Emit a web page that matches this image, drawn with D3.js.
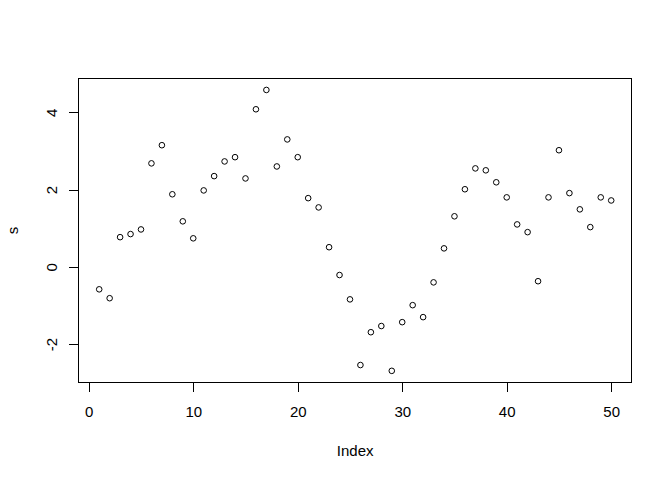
<!DOCTYPE html>
<html>
<head>
<meta charset="utf-8">
<script src="https://cdn.jsdelivr.net/npm/d3@7.9.0/dist/d3.min.js"></script>
<style>
  html, body { margin: 0; padding: 0; background: #fff; }
  svg text { font-family: "Liberation Sans", Arial, sans-serif; font-size: 15px; fill: #000; }
</style>
</head>
<body>
<svg id="plot" width="672" height="480"></svg>
<script>
// values of s, one per index 1..50
const s = [-0.58, -0.81, 0.77, 0.85, 0.97, 2.68, 3.15, 1.88, 1.18, 0.74,
           1.98, 2.35, 2.73, 2.84, 2.29, 4.08, 4.58, 2.60, 3.30, 2.84,
           1.78, 1.54, 0.51, -0.21, -0.84, -2.54, -1.69, -1.53, -2.69, -1.43,
           -0.99, -1.30, -0.40, 0.48, 1.31, 2.01, 2.55, 2.50, 2.19, 1.80,
           1.10, 0.90, -0.37, 1.80, 3.02, 1.91, 1.49, 1.03, 1.80, 1.72];
const index = s.map((_, i) => i + 1);
const xTicks = [0, 10, 20, 30, 40, 50];
const yTicks = [-2, 0, 2, 4];

const W = 672, H = 480;
const lineH = 19.2; // one margin line in px
const margin = { top: 4.1 * lineH, right: 2.1 * lineH, bottom: 5.1 * lineH, left: 4.1 * lineH };
const x0 = margin.left, x1 = W - margin.right;
const y0 = margin.top, y1 = H - margin.bottom;

// R-style 4% range extension
function pad([a, b]) {
    const e = (b - a) * 0.04;
    return [a - e, b + e];
}

// plain hyphen minus, like R
const fmt = (d) => String(d);

const x = d3.scaleLinear().domain(pad(d3.extent(index))).range([x0, x1]);
const y = d3.scaleLinear().domain(pad(d3.extent(s))).range([y1, y0]);

const svg = d3.select('#plot');

// x axis
const gx = svg.append('g')
    .attr('transform', `translate(0,${y1})`)
    .call(d3.axisBottom(x).tickValues(xTicks).tickSize(9.6).tickPadding(14.4).tickFormat(fmt));
gx.select('.domain').remove();
gx.selectAll('line').attr('stroke', '#000').attr('shape-rendering', 'crispEdges');
gx.selectAll('text').attr('font-size', null).attr('font-family', null);

// y axis, labels rotated like R's default las=0
const gy = svg.append('g')
    .attr('transform', `translate(${x0},0)`)
    .call(d3.axisLeft(y).tickValues(yTicks).tickSize(9.6).tickFormat(fmt));
gy.select('.domain').remove();
gy.selectAll('line').attr('stroke', '#000').attr('shape-rendering', 'crispEdges');
gy.selectAll('text')
    .attr('font-size', null).attr('font-family', null)
    .attr('x', null).attr('dy', null)
    .attr('text-anchor', 'middle')
    .attr('transform', 'translate(-22,0) rotate(-90)');

// box around the plot region
svg.append('rect')
    .attr('x', x0).attr('y', y0)
    .attr('width', x1 - x0).attr('height', y1 - y0)
    .attr('fill', 'none').attr('stroke', '#000')
    .attr('shape-rendering', 'crispEdges');

// points, open circles
svg.append('g')
    .selectAll('circle')
    .data(s)
    .join('circle')
    .attr('cx', (d, i) => x(index[i]))
    .attr('cy', (d) => y(d))
    .attr('r', 2.8)
    .attr('fill', 'none')
    .attr('stroke', '#000')
    .attr('stroke-width', 1);

// axis titles
svg.append('text')
    .attr('x', (x0 + x1) / 2).attr('y', 456)
    .attr('text-anchor', 'middle')
    .text('Index');

svg.append('text')
    .attr('transform', `translate(18,${(y0 + y1) / 2}) rotate(-90)`)
    .attr('text-anchor', 'middle')
    .text('s');
</script>
</body>
</html>
